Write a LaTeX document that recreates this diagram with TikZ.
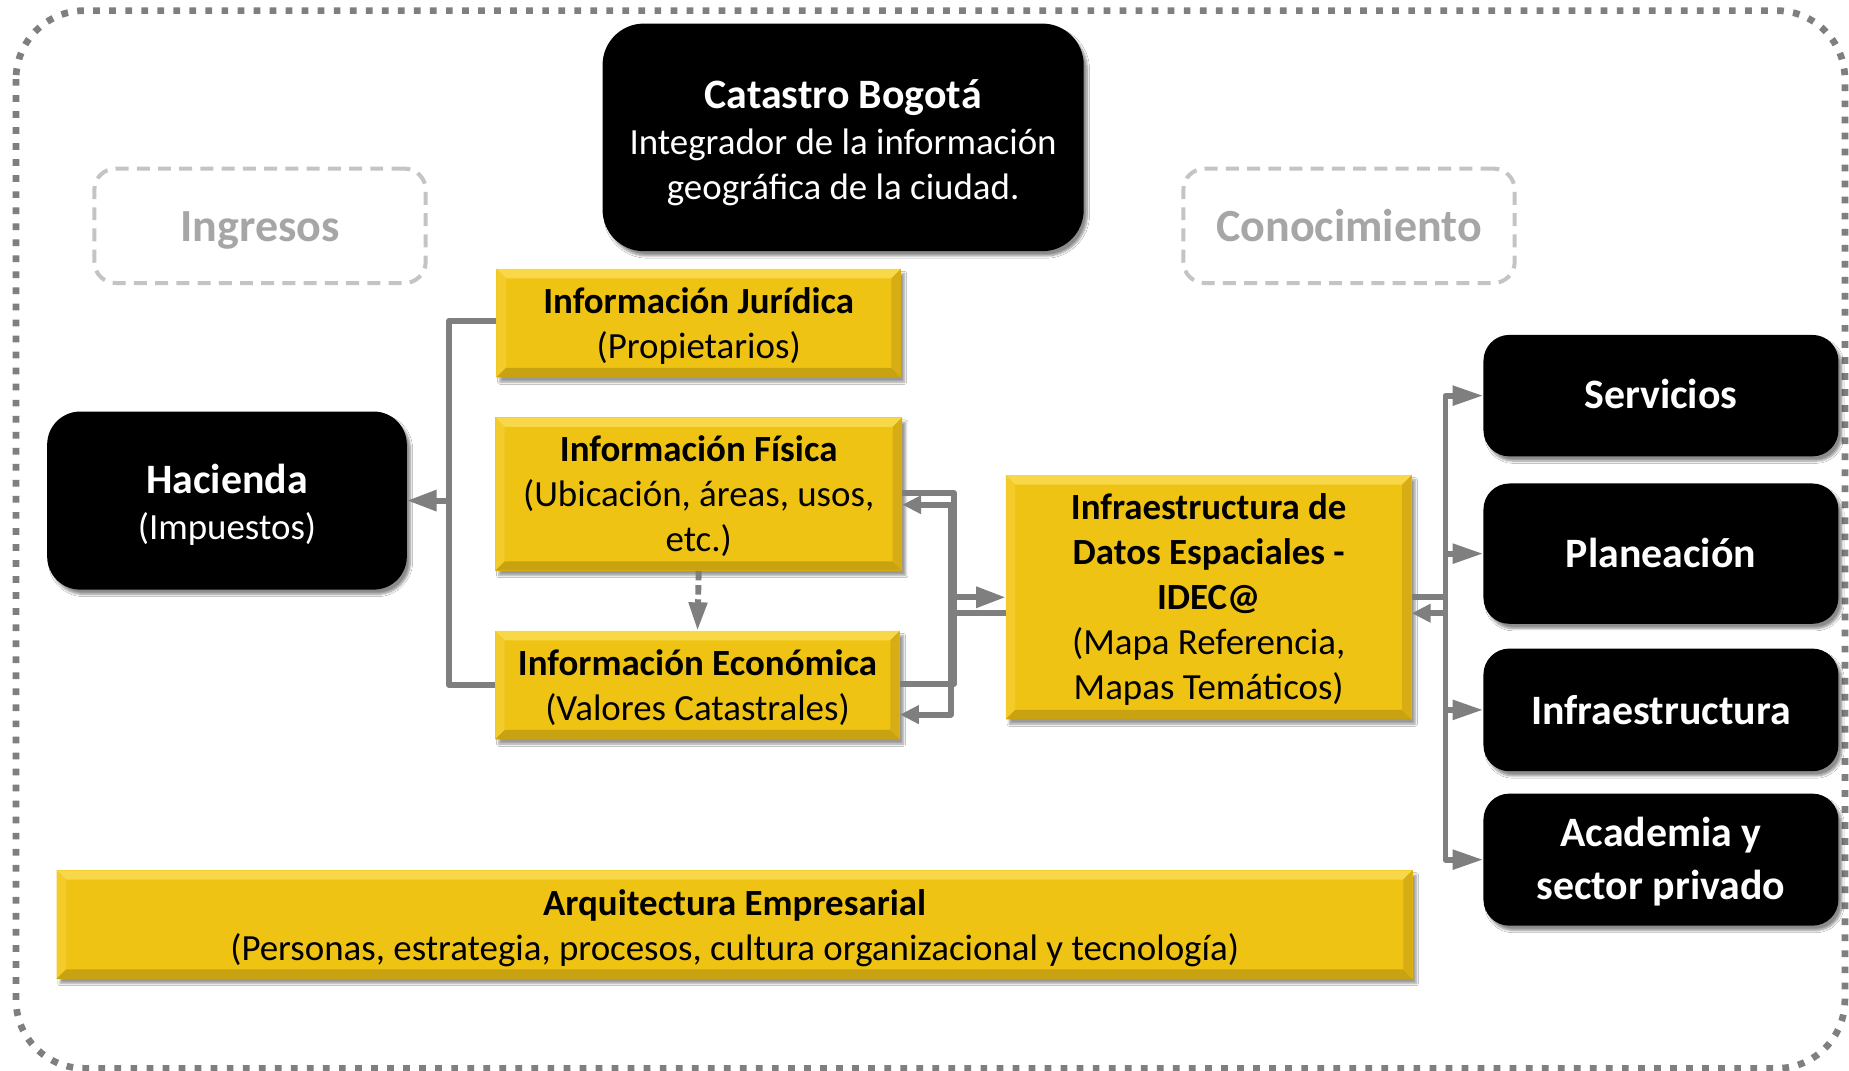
\documentclass[tikz,border=0pt]{standalone}
\usepackage{fontspec}
\setmainfont{Carlito}
\usetikzlibrary{arrows.meta,calc,shadows.blur}
\definecolor{yel}{HTML}{EFC314}
\definecolor{ylight}{HTML}{F8D848}
\definecolor{yleft}{HTML}{F3CB2A}
\definecolor{ydark}{HTML}{C9A212}
\definecolor{yright}{HTML}{D6AD14}
\definecolor{lgray}{HTML}{7F7F7F}
\definecolor{ghostline}{HTML}{C4C4C4}
\definecolor{ghosttext}{HTML}{A6A6A6}
\begin{document}
\begin{tikzpicture}[x=1pt,y=-1pt,
  bk/.style={fill=black, rounded corners=#1, inner sep=0pt,
    blur shadow={shadow xshift=3pt, shadow yshift=-4pt, shadow blur steps=6, shadow opacity=45}},
  bk/.default=22pt,
  ybox/.style={fill=yel, inner sep=0pt,
    blur shadow={shadow xshift=3pt, shadow yshift=-4pt, shadow blur steps=5, shadow opacity=40},
    path picture={
      \coordinate (pnw) at (path picture bounding box.north west);
      \coordinate (pne) at (path picture bounding box.north east);
      \coordinate (psw) at (path picture bounding box.south west);
      \coordinate (pse) at (path picture bounding box.south east);
      \fill[ylight] (pnw) -- (pne) -- ([xshift=-8pt,yshift=-8pt]pne) -- ([xshift=8pt,yshift=-8pt]pnw) -- cycle;
      \fill[yleft] (pnw) -- (psw) -- ([xshift=8pt,yshift=8pt]psw) -- ([xshift=8pt,yshift=-8pt]pnw) -- cycle;
      \fill[ydark] (psw) -- (pse) -- ([xshift=-8pt,yshift=8pt]pse) -- ([xshift=8pt,yshift=8pt]psw) -- cycle;
      \fill[yright] (pne) -- (pse) -- ([xshift=-8pt,yshift=8pt]pse) -- ([xshift=-8pt,yshift=-8pt]pne) -- cycle;
    }},
  wtxt/.style={inner sep=0pt, align=center, text=white, font=\fontsize{31.3}{38}\selectfont},
  wtitle/.style={inner sep=0pt, align=center, text=white, font=\bfseries\fontsize{35.5}{44}\selectfont},
  btxt/.style={inner sep=0pt, align=center, text=black, font=\fontsize{31.3}{38}\selectfont},
  ghost/.style={draw=ghostline, line width=3.4pt, dash pattern=on 11pt off 7pt, rounded corners=18pt,
    inner sep=0pt, minimum width=281pt, minimum height=97pt},
  gtxt/.style={inner sep=0pt, text=ghosttext, font=\bfseries\fontsize{39}{46}\selectfont},
  conn/.style={draw=lgray, line width=5pt, line join=round},
  arrL/.style={conn, -{Triangle[length=25pt,width=17pt]}},
  arrS/.style={conn, -{Triangle[length=16pt,width=15pt]}},
  arrR/.style={conn, -{Triangle[length=26pt,width=16pt]}}
]
\useasboundingbox (0,0) rectangle (1568,908);
\fill[white] (0,0) rectangle (1568,908);

% outer dotted frame
\draw[lgray, line width=5.7pt, dash pattern=on 5.7pt off 7.9pt, rounded corners=58pt]
  (13.6,9) rectangle (1564.5,906);

% ghost labels
\node[ghost] (ing) at (220.5,191.5) {};
\node[gtxt] (ing-t) at ($(ing.center)+(0,4)$) {Ingresos};
\node[ghost] (con) at (1144,191.5) {};
\node[gtxt] (con-t) at (con.center) {Conocimiento};

% black boxes
\node[bk=35pt, minimum width=408pt, minimum height=193pt] (cat) at (715,116.5) {};
\node[wtxt] (cat-t) at ($(cat.center)+(0,4.5)$)
  {{\bfseries\fontsize{35.5}{40}\selectfont Catastro Bogotá}\\[1pt]Integrador de la información\\geográfica de la ciudad.};
\node[bk=28pt, minimum width=305pt, minimum height=151pt] (hac) at (192.5,424.5) {};
\node[wtxt] (hac-t) at ($(hac.center)+(0,3.5)$)
  {{\bfseries\fontsize{35.5}{40}\selectfont Hacienda}\\[1pt](Impuestos)};
\node[bk, minimum width=301pt, minimum height=103pt] (serv) at (1408.5,335.5) {};
\node[wtitle] (serv-t) at ($(serv.center)+(0,-1)$) {Servicios};
\node[bk, minimum width=301pt, minimum height=119pt] (plan) at (1408.5,469.5) {};
\node[wtitle] (plan-t) at ($(plan.center)+(0,-1)$) {Planeación};
\node[bk, minimum width=301pt, minimum height=104pt] (infra) at (1408.5,602) {};
\node[wtitle] (infra-t) at (infra.center) {Infraestructura};
\node[bk, minimum width=301pt, minimum height=112pt] (acad) at (1408.5,729) {};
\node[wtitle] (acad-t) at ($(acad.center)+(0,2)$) {Academia y\\[1pt]sector privado};

% yellow boxes
\node[ybox, minimum width=343pt, minimum height=92pt] (jur) at (592.5,274) {};
\node[btxt] (jur-t) at ($(jur.center)+(0,2.5)$) {\textbf{Información Jurídica}\\(Propietarios)};
\node[ybox, minimum width=345pt, minimum height=130pt] (fis) at (592.5,419) {};
\node[btxt] (fis-t) at ($(fis.center)+(0,1.5)$) {\textbf{Información Física}\\(Ubicación, áreas, usos,\\etc.)};
\node[ybox, minimum width=343pt, minimum height=92pt] (eco) at (591.5,581) {};
\node[btxt] (eco-t) at ($(eco.center)+(0,2)$) {\textbf{Información Económica}\\(Valores Catastrales)};
\node[ybox, minimum width=344pt, minimum height=207pt] (idec) at (1025,506.5) {};
\node[btxt] (idec-t) at ($(idec.center)+(0,2)$)
  {\textbf{Infraestructura de}\\\textbf{Datos Espaciales -}\\\textbf{IDEC@}\\(Mapa Referencia,\\Mapas Temáticos)};
\node[ybox, minimum width=1150pt, minimum height=92pt] (arq) at (623,784) {};
\node[btxt] (arq-t) at ($(arq.center)+(0,3)$)
  {\textbf{Arquitectura Empresarial}\\(Personas, estrategia, procesos, cultura organizacional y tecnología)};

% left bus to Hacienda
\coordinate (lb) at ([xshift=-40pt]jur.west |- hac.east);
\draw[conn] ([yshift=2pt]jur.west) -| (lb) |- (eco.west);
\draw[arrL] (lb) -- (hac.east);

% dashed Fisica -> Economica
\draw[conn, dash pattern=on 8pt off 4pt, -{Triangle[length=24pt,width=15pt]}] (fis.south) -- (eco.north);

% Fisica / Economica -> IDEC
\draw[arrL] ([yshift=1pt]fis.east) -| ([xshift=-44pt]idec.west) -- (idec.west);
\draw[conn] ([yshift=1pt]eco.east) -| ([xshift=-44pt]idec.west);
% IDEC -> Fisica / Economica
\draw[arrS] ([yshift=-13.5pt]idec.west) -| ([yshift=-9pt,xshift=41pt]fis.east) -- ([yshift=-9pt]fis.east);
\draw[arrS] ([yshift=-13.5pt]idec.west) -| ([yshift=-25pt,xshift=43pt]eco.east) -- ([yshift=-25pt]eco.east);

% right bus
\path ([xshift=-32pt]serv.west) coordinate (sb);
\coordinate (rb) at (sb |- idec.east);
\draw[conn] (idec.east) -- (rb);
\draw[arrS] ([yshift=-13.5pt]rb) -- ([yshift=-13.5pt]idec.east);
\draw[arrR] (sb |- acad.west) -- (sb) -- (serv.west);
\draw[arrR] (sb) -- (sb |- acad.west) -- (acad.west);
\draw[arrR] (sb |- plan.west) -- (plan.west);
\draw[arrR] (sb |- infra.west) -- (infra.west);
\end{tikzpicture}
\end{document}
